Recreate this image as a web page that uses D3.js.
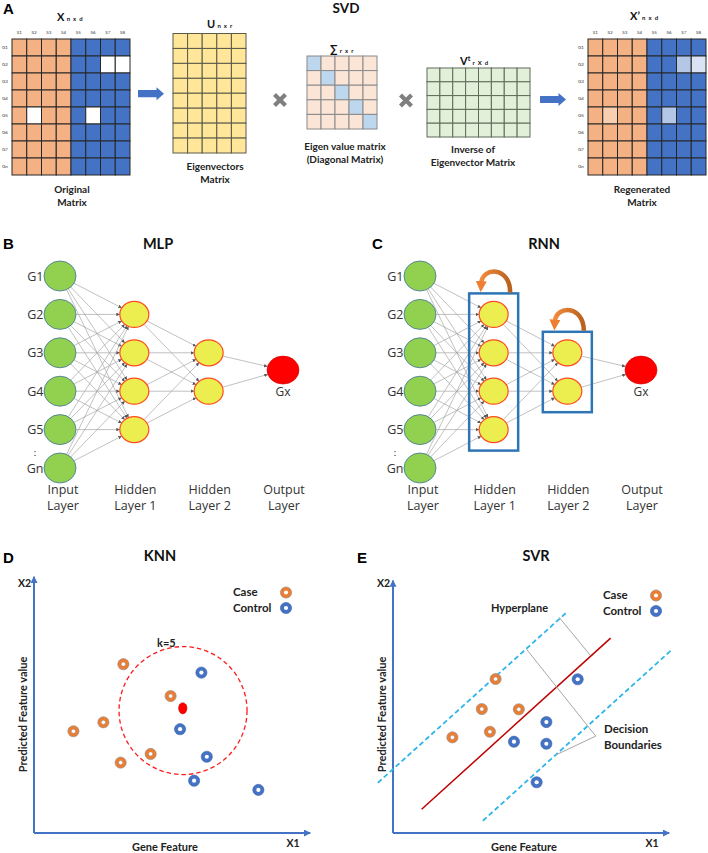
<!DOCTYPE html>
<html><head><meta charset="utf-8">
<script src="https://cdn.jsdelivr.net/npm/d3@7/dist/d3.min.js"></script>
<style>body{margin:0;background:#fff}svg{display:block}</style>
</head><body><script>
// ---------------- DATA ----------------
// Panel A (SVD)
const sampleLabels = ["S1","S2","S3","S4","S5","S6","S7","S8"];
const geneLabels = ["G1","G2","G3","G4","G5","G6","G7","Gn"];
const sampleGroup = ["case","case","case","case","control","control","control","control"];
const missingCells = [["G2","S7"],["G2","S8"],["G5","S2"],["G5","S6"]];
const imputedLightness = [0.6, 0.8, 0.37, 0.6];
const rankR = 5;
const svdTexts = {X:["Original","Matrix"], U:["Eigenvectors","Matrix"], S:["Eigen value matrix","(Diagonal Matrix)"], V:["Inverse of","Eigenvector Matrix"], Xp:["Regenerated","Matrix"]};

// Panels B/C (networks)
const inputLabels = ["G1","G2","G3","G4","G5","Gn"];
const hidden1Rows = [1,2,3,4];
const hidden2Rows = [2,3];
const outputRows = [2.45];
const outputLabel = "Gx";
const layerNames = [["Input","Layer"],["Hidden","Layer 1"],["Hidden","Layer 2"],["Output","Layer"]];

// Panel D (KNN)
const knnCase = [[33.1,66.2],[50.6,53.7],[25.7,43.4],[14.6,39.9],[43.2,31.0],[32.1,27.6]];
const knnControl = [[62.0,62.9],[54.1,40.7],[64.0,29.9],[59.3,20.5],[83.1,16.9]];
const knnQuery = [55.1,48.9];
const knnCenter = [55.2,48.0];
const knnRadius = 23.7;
const knnK = 5;

// Panel E (SVR)
const svrCase = [[38.0,60.4],[32.9,48.6],[46.6,48.5],[35.9,39.7],[22.0,37.5]];
const svrControl = [[68.4,60.3],[56.8,43.5],[44.8,35.8],[56.8,35.0],[53.2,19.9]];
const hyperplane = [[10.6,9.3],[80.6,76.4]];
const marginUpper = [[-5.6,19.7],[64.6,86.8]];
const marginLower = [[33.3,4.8],[103.4,72.0]];
const hyperLeader = [[61.5,84.6],[73.0,69.8]];
const boundaryLeader = [[49.5,72.0],[75.1,38.0],[60.3,30.6]];

const legendLabels = ["Case","Control"];
const axisLabels = {x:"Gene Feature", y:"Predicted Feature value", xName:"X1", yName:"X2"};

// ---------------- STYLE ----------------
const FONT = "Lato, 'Open Sans', sans-serif";
const LETTER = "'Liberation Sans', Arial, sans-serif";
const C = {orange:"#F4B183", blue:"#4472C4", yellow:"#FFE699", peach:"#FBE5D6", diag:"#BDD7EE", green:"#E2F0D9",
  node:"#92D050", nodeStroke:"#41719C", hid:"#EBEE4E", hidStroke:"#FF4B1F", out:"#FF0000",
  edge:"#A6A6A6", caseC:"#ED7D31", ctrlC:"#4472C4", axis:"#4472C4", cyan:"#2DB5EA", red:"#C00000"};

const svg = d3.select("body").append("svg").attr("width",708).attr("height",853);
const defs = svg.append("defs");

function txt(g, x, y, s, o={}) {
  const t = g.append("text").attr("x",x).attr("y",y).text(s)
    .attr("font-family", o.family||FONT).attr("font-size", o.size||11)
    .attr("font-weight", o.weight||"normal").attr("fill", o.fill||"#222")
    .attr("text-anchor", o.anchor||"start");
  if (o.rotate) t.attr("transform", `rotate(${o.rotate},${x},${y})`);
  return t;
}
function twoLines(g, cx, y, lines, o) { lines.forEach((l,i)=>txt(g, cx, y + i*(o.lh||13), l, Object.assign({anchor:"middle"}, o))); }

// Panel letters
[["A",3,14],["B",3,249],["C",372,249],["D",3,563],["E",357,563]].forEach(([l,x,y]) =>
  txt(svg,x,y,l,{family:LETTER,size:15,weight:"bold",fill:"#000"}));

// ---------------- PANEL A ----------------
const gA = svg.append("g");
txt(gA, 346, 13, "SVD", {size:13.5, weight:"bold", anchor:"middle", fill:"#111"});

function matTitle(x, y, main, sup, sub) {
  const t = gA.append("text").attr("x",x).attr("y",y).attr("font-family",FONT).attr("font-weight","bold").attr("fill","#111");
  t.append("tspan").attr("font-size",11).text(main);
  if (sup) t.append("tspan").attr("font-size",7).attr("dy",-4).text(sup);
  t.append("tspan").attr("font-size",6).attr("dy", sup?4:0).attr("letter-spacing",0.8).text(" " + sub);
}
function drawMatrix(rows, cols, x0, x1, y0, y1, fillFn, stroke) {
  const xs = d3.scaleBand().domain(cols).range([x0,x1]);
  const ys = d3.scaleBand().domain(rows).range([y0,y1]);
  const cells = rows.flatMap(r => cols.map(c => ({r,c})));
  gA.append("g").selectAll("rect").data(cells).join("rect")
    .attr("x", d=>xs(d.c)).attr("y", d=>ys(d.r))
    .attr("width", xs.bandwidth()).attr("height", ys.bandwidth())
    .attr("fill", fillFn).attr("stroke", stroke).attr("stroke-width", 1);
  return {xs, ys};
}
const groupColor = g => g==="case" ? C.orange : C.blue;
const missIdx = (r,c) => missingCells.findIndex(m => m[0]===r && m[1]===c);

function dataMatrix(x0, regenerated) {
  const m = drawMatrix(geneLabels, sampleLabels, x0, x0+118, 39, 175, d => {
    const base = groupColor(sampleGroup[sampleLabels.indexOf(d.c)]);
    const k = missIdx(d.r, d.c);
    if (k < 0) return base;
    return regenerated ? d3.interpolateRgb(base, "#fff")(imputedLightness[k]) : "#fff";
  }, "#262626");
  sampleLabels.forEach(s => txt(gA, m.xs(s)+m.xs.bandwidth()/2, 34, s, {size:4.5, anchor:"middle", fill:"#333"}));
  geneLabels.forEach(gn => txt(gA, x0-10, m.ys(gn)+m.ys.bandwidth()/2+1.5, gn, {size:4.5, fill:"#333"}));
}
dataMatrix(12, false);
matTitle(57, 21, "X", null, "n x d");
twoLines(gA, 72, 193, svdTexts.X, {size:10, weight:"bold", fill:"#222"});

const rIdx = d3.range(rankR), nIdx = d3.range(geneLabels.length), dIdx = d3.range(sampleLabels.length);
drawMatrix(nIdx, rIdx, 173, 246, 33.5, 153, () => C.yellow, "#5a5a4a");
matTitle(207, 28, "U", null, "n x r");
twoLines(gA, 215, 170, svdTexts.U, {size:10, weight:"bold"});

drawMatrix(rIdx, rIdx, 307, 377, 56, 129, d => d.r===d.c ? C.diag : C.peach, "#8a8a8a");
matTitle(330, 53, "∑", null, "r x r");
twoLines(gA, 345, 150, svdTexts.S, {size:10, weight:"bold"});

drawMatrix(rIdx, dIdx, 427, 530, 68, 137, () => C.green, "#5f6b5a");
matTitle(460, 65, "V", "t", "r X d");
twoLines(gA, 473, 153, svdTexts.V, {size:10, weight:"bold"});

dataMatrix(588, true);
matTitle(630, 20, "X’", null, "n x d");
twoLines(gA, 642, 193, svdTexts.Xp, {size:10, weight:"bold"});

function blockArrow(x0, x1, cy) {
  const hs = 3.6, hh = 6.5, hl = 7.5;
  gA.append("path").attr("fill", C.blue)
    .attr("d", `M${x0},${cy-hs}L${x1-hl},${cy-hs}L${x1-hl},${cy-hh}L${x1},${cy}L${x1-hl},${cy+hh}L${x1-hl},${cy+hs}L${x0},${cy+hs}Z`);
}
blockArrow(138, 164, 93.7);
blockArrow(540, 566, 99.5);
function times(cx, cy) {
  const s = 5.5;
  gA.append("path").attr("stroke","#7F7F7F").attr("stroke-width",4.2)
    .attr("d", `M${cx-s},${cy-s}L${cx+s},${cy+s}M${cx+s},${cy-s}L${cx-s},${cy+s}`);
}
times(280, 100); times(406, 100.5);

// ---------------- PANELS B / C ----------------
defs.append("marker").attr("id","ah").attr("viewBox","0 0 10 10").attr("refX",10).attr("refY",5)
  .attr("markerWidth",3.5).attr("markerHeight",3.5).attr("markerUnits","userSpaceOnUse").attr("orient","auto")
  .append("path").attr("d","M0,0L10,5L0,10Z").attr("fill","#555");
const grad = defs.append("linearGradient").attr("id","og").attr("x1","0").attr("x2","1").attr("y1","0").attr("y2","0");
grad.append("stop").attr("offset","0").attr("stop-color","#F28A3C");
grad.append("stop").attr("offset","1").attr("stop-color","#B8621E");
defs.append("marker").attr("id","oh").attr("viewBox","0 0 10 10").attr("refX",2).attr("refY",5)
  .attr("markerWidth",11).attr("markerHeight",11).attr("markerUnits","userSpaceOnUse").attr("orient","auto")
  .append("path").attr("d","M0,0L10,5L0,10Z").attr("fill","#EE7E31");

const rowY = d3.scaleLinear().domain([0,5]).range([276,468]);

function network(x0, x3, titleX, title, recurrent) {
  const g = svg.append("g");
  const layerX = d3.scaleLinear().domain([0,3]).range([x0,x3]);
  txt(g, titleX, 249, title, {size:14.5, weight:"bold", anchor:"middle", fill:"#111"});
  const layers = [
    inputLabels.map((l,i)=>({x:layerX(0), y:rowY(i), rx:16, ry:15, fill:C.node, stroke:C.nodeStroke, sw:0.8, label:l})),
    hidden1Rows.map(r=>({x:layerX(1), y:rowY(r), rx:14.5, ry:13, fill:C.hid, stroke:C.hidStroke, sw:1.2})),
    hidden2Rows.map(r=>({x:layerX(2), y:rowY(r), rx:14.5, ry:13, fill:C.hid, stroke:C.hidStroke, sw:1.2})),
    outputRows.map(r=>({x:layerX(3), y:rowY(r), rx:16, ry:14, fill:C.out, stroke:"#D00000", sw:0.6}))
  ];
  const edges = [];
  for (let l=0; l<3; l++) layers[l].forEach(s => layers[l+1].forEach(t => edges.push({s,t})));
  const edgePt = (n, dx, dy) => { const k = 1/Math.sqrt((dx/n.rx)**2 + (dy/n.ry)**2); return [dx*k, dy*k]; };
  g.append("g").selectAll("line").data(edges).join("line")
    .attr("x1", d => d.s.x + edgePt(d.s, d.t.x-d.s.x, d.t.y-d.s.y)[0])
    .attr("y1", d => d.s.y + edgePt(d.s, d.t.x-d.s.x, d.t.y-d.s.y)[1])
    .attr("x2", d => d.t.x - edgePt(d.t, d.t.x-d.s.x, d.t.y-d.s.y)[0])
    .attr("y2", d => d.t.y - edgePt(d.t, d.t.x-d.s.x, d.t.y-d.s.y)[1])
    .attr("stroke", C.edge).attr("stroke-width", 0.7).attr("marker-end","url(#ah)");
  layers.flat().forEach(n => g.append("ellipse").attr("cx",n.x).attr("cy",n.y).attr("rx",n.rx).attr("ry",n.ry)
    .attr("fill",n.fill).attr("stroke",n.stroke).attr("stroke-width",n.sw));
  layers[0].forEach(n => txt(g, n.x-n.rx-0.5, n.y+4.5, n.label, {size:12.5, anchor:"end", fill:"#333", family:"'Open Sans',sans-serif"}));
  txt(g, layerX(0)-25, rowY(4.62)+3, ":", {size:10, fill:"#333", anchor:"middle"});
  const o = layers[3][0];
  txt(g, o.x, o.y+26, outputLabel, {size:12, anchor:"middle", fill:"#333", family:"'Open Sans',sans-serif"});
  layerNames.forEach((ln,i) => twoLines(g, layerX(i)+(i===0?3:1), 493.5, ln, {size:12.5, lh:16, fill:"#333", family:"'Open Sans',sans-serif"}));
  if (recurrent) {
    [[1, hidden1Rows], [2, hidden2Rows]].forEach(([li, rows]) => {
      const xl = layerX(li)-24.5, xr = layerX(li)+24.5;
      const yt = rowY(d3.min(rows))-21, yb = rowY(d3.max(rows))+21;
      g.append("rect").attr("x",xl).attr("y",yt).attr("width",xr-xl).attr("height",yb-yt)
        .attr("fill","none").attr("stroke","#2E75B6").attr("stroke-width",2.5);
      g.append("path").attr("fill","none").attr("stroke","url(#og)").attr("stroke-width",4.5)
        .attr("marker-end","url(#oh)")
        .attr("d", `M${xr-8},${yt-1}C${xr-8},${yt-27} ${xl+13},${yt-27} ${xl+12},${yt-10}`);
    });
  }
}
network(60, 283, 158, "MLP", false);
network(420, 641, 544, "RNN", true);

// ---------------- PANELS D / E ----------------
defs.append("marker").attr("id","axh").attr("viewBox","0 0 10 10").attr("refX",9).attr("refY",5)
  .attr("markerWidth",7).attr("markerHeight",7).attr("markerUnits","userSpaceOnUse").attr("orient","auto")
  .append("path").attr("d","M0,0L10,5L0,10Z").attr("fill",C.axis);

function scatterPanel(xRange, titleX, title, yTop) {
  const g = svg.append("g");
  const x = d3.scaleLinear().domain([0,100]).range(xRange);
  const y = d3.scaleLinear().domain([0,100]).range([833,578]);
  txt(g, titleX, 561, title, {size:14.5, weight:"bold", anchor:"middle", fill:"#111"});
  g.append("line").attr("x1",x(0)).attr("y1",y(0)).attr("x2",x(0)).attr("y2",y(yTop))
    .attr("stroke",C.axis).attr("stroke-width",2).attr("marker-end","url(#axh)");
  g.append("line").attr("x1",x(0)).attr("y1",y(0)).attr("x2",x(102.3)).attr("y2",y(0))
    .attr("stroke",C.axis).attr("stroke-width",2).attr("marker-end","url(#axh)");
  txt(g, x(0)-16, y(97)+1, axisLabels.yName, {size:10.5, weight:"bold", fill:"#222"});
  txt(g, x(93.5), 847, axisLabels.xName, {size:10.5, weight:"bold", fill:"#222"});
  txt(g, x(48.5), 851, axisLabels.x, {size:11, weight:"bold", anchor:"middle", fill:"#222"});
  txt(g, x(0)-6.5, y(46.5), axisLabels.y, {size:11, weight:"bold", anchor:"middle", rotate:-90, fill:"#222"});
  return {g, x, y};
}
function rings(g, pts, color, x, y) {
  const s = g.append("g").selectAll("g").data(pts).join("g").attr("transform", d=>`translate(${x(d[0])},${y(d[1])})`);
  s.append("circle").attr("r",5.6).attr("fill",color).attr("stroke", color===C.caseC ? "#8a8a8a" : "#3a62a8").attr("stroke-width",0.6);
  s.append("circle").attr("r",2.1).attr("fill","#fff").attr("stroke", color===C.caseC ? "#8a8a8a" : "none").attr("stroke-width",0.5);
}
function legend(g, xText, xMark, y0) {
  legendLabels.forEach((l,i) => {
    txt(g, xText, y0 + i*16, l, {size:11.5, weight:"bold", fill:"#222"});
    const col = i===0 ? C.caseC : C.ctrlC;
    g.append("circle").attr("cx",xMark).attr("cy",y0-3.5+i*15.5).attr("r",5.6).attr("fill",col).attr("stroke", i===0?"#8a8a8a":"#3a62a8").attr("stroke-width",0.6);
    g.append("circle").attr("cx",xMark).attr("cy",y0-3.5+i*15.5).attr("r",2.1).attr("fill","#fff");
  });
}

// D
const D = scatterPanel([34,304], 160, "KNN", 100.5);
D.g.append("circle").attr("cx",D.x(knnCenter[0])).attr("cy",D.y(knnCenter[1]))
  .attr("r", D.x(knnRadius)-D.x(0)).attr("fill","none").attr("stroke","#FF1A1A").attr("stroke-width",1.3).attr("stroke-dasharray","4.5,3");
txt(D.g, D.x(knnCenter[0])-26, D.y(knnCenter[1])-63.5, `k=${knnK}`, {size:11, weight:"bold", fill:"#222"});
rings(D.g, knnCase, C.caseC, D.x, D.y);
rings(D.g, knnControl, C.ctrlC, D.x, D.y);
D.g.append("ellipse").attr("cx",D.x(knnQuery[0])).attr("cy",D.y(knnQuery[1])).attr("rx",4.2).attr("ry",5.6)
  .attr("fill","#FF0000").attr("stroke","#B00000").attr("stroke-width",0.5);
legend(D.g, 233, 286, 596);

// E
const E = scatterPanel([393,663], 536, "SVR", 99);
const ln = d3.line().x(d=>E.x(d[0])).y(d=>E.y(d[1]));
E.g.append("path").attr("d", ln(marginUpper)).attr("stroke",C.cyan).attr("stroke-width",1.8).attr("stroke-dasharray","5,3").attr("fill","none");
E.g.append("path").attr("d", ln(marginLower)).attr("stroke",C.cyan).attr("stroke-width",1.8).attr("stroke-dasharray","5,3").attr("fill","none");
E.g.append("path").attr("d", ln(hyperplane)).attr("stroke",C.red).attr("stroke-width",1.5).attr("fill","none");
E.g.append("path").attr("d", ln(hyperLeader)).attr("stroke","#A6A6A6").attr("stroke-width",1).attr("fill","none");
E.g.append("path").attr("d", ln(boundaryLeader)).attr("stroke","#A6A6A6").attr("stroke-width",1).attr("fill","none");
rings(E.g, svrCase, C.caseC, E.x, E.y);
rings(E.g, svrControl, C.ctrlC, E.x, E.y);
txt(E.g, 491, 612, "Hyperplane", {size:11, weight:"bold", fill:"#222"});
txt(E.g, 604, 733, "Decision", {size:11.5, weight:"bold", fill:"#222"});
txt(E.g, 604, 749, "Boundaries", {size:11.5, weight:"bold", fill:"#222"});
legend(E.g, 603, 656, 599);
</script></body></html>
